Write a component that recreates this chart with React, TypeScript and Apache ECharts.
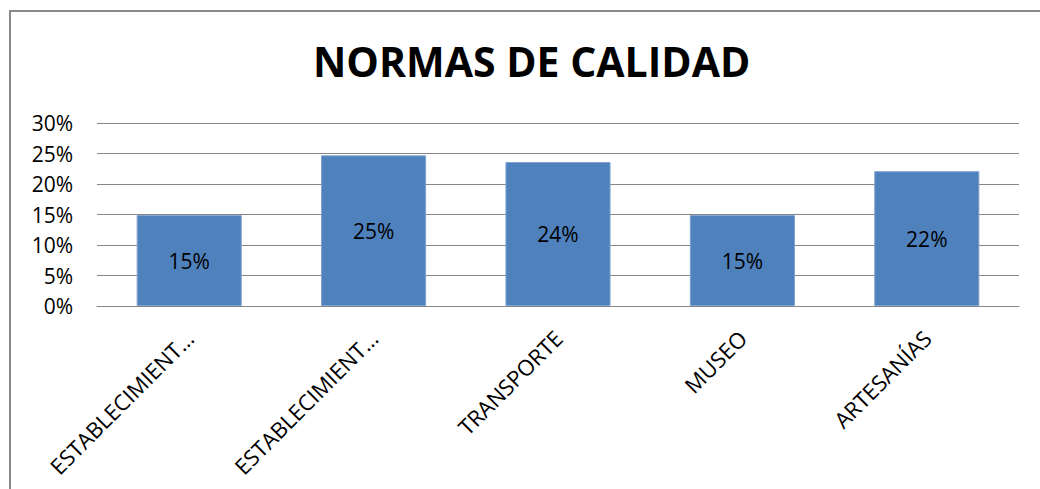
import React, { useEffect, useRef } from "react";
import * as echarts from "echarts";

const titleText = "NORMAS DE CALIDAD";
const categories = [
  "ESTABLECIMIENTOS DE ALOJAMIENTO",
  "ESTABLECIMIENTOS DE ALIMENTOS Y BEBIDAS",
  "TRANSPORTE",
  "MUSEO",
  "ARTESANÍAS",
];
const values = [0.149, 0.247, 0.236, 0.149, 0.221];
const yMin = 0;
const yMax = 0.3;
const yInterval = 0.05;

const FONT = "Open Sans";

export default function App() {
  const ref = useRef<HTMLDivElement>(null);
  useEffect(() => {
    document.body.style.margin = "0";
    const chart = echarts.init(ref.current!, null, { renderer: "svg" });
    chart.setOption({
      animation: false,
      backgroundColor: "#ffffff",
      title: {
        text: titleText,
        left: 308,
        top: 35,
        textStyle: { fontFamily: FONT, fontWeight: "bold", fontSize: 41, color: "#000000" },
      },
      graphic: [
        {
          type: "rect",
          shape: { x: 10, y: 11, width: 1100, height: 600 },
          style: { fill: "none", stroke: "#8a8a8a", lineWidth: 2 },
          silent: true,
        },
      ],
      grid: { left: 97, right: 21, top: 123, bottom: 183, containLabel: false },
      xAxis: {
        type: "category",
        data: categories,
        axisLine: { show: true, lineStyle: { color: "#868686", width: 1 } },
        axisTick: { show: false },
        axisLabel: {
          rotate: 45,
          interval: 0,
          margin: 28,
          fontFamily: FONT,
          fontSize: 22,
          color: "#000000",
          formatter: (v: string) => (v.length > 14 ? v.slice(0, 14) + "…" : v),
        },
      },
      yAxis: {
        type: "value",
        min: yMin,
        max: yMax,
        interval: yInterval,
        axisLine: { show: false },
        axisTick: { show: false },
        splitLine: { lineStyle: { color: "#868686", width: 1 } },
        axisLabel: {
          margin: 24,
          fontFamily: FONT,
          fontSize: 21,
          color: "#000000",
          formatter: (v: number) => Math.round(v * 100) + "%",
        },
      },
      series: [
        {
          type: "bar",
          data: values,
          barCategoryGap: "43%",
          itemStyle: { color: "#4F81BD", borderColor: "#7FA3D1", borderWidth: 1 },
          label: {
            show: true,
            position: "inside",
            fontFamily: FONT,
            fontSize: 21,
            color: "#000000",
            formatter: (p: any) => Math.round(p.value * 100) + "%",
          },
        },
      ],
    });
    return () => chart.dispose();
  }, []);
  return <div ref={ref} style={{ width: 1040, height: 489 }} />;
}
